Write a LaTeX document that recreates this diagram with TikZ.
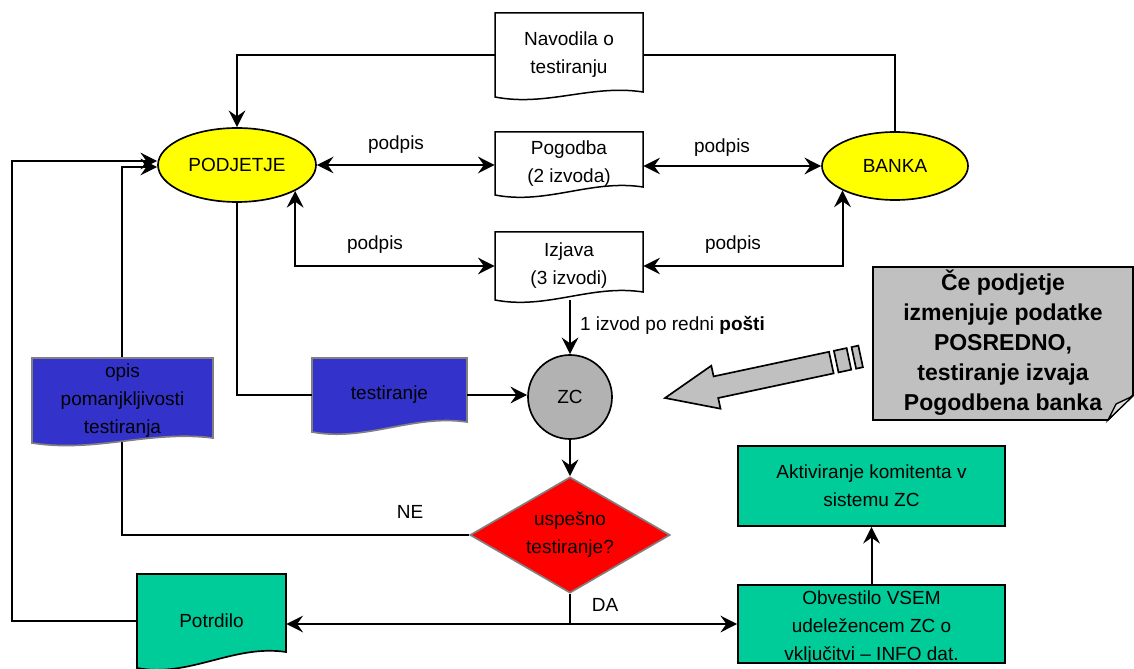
\documentclass[tikz,border=0pt]{standalone}
\usepackage{fontspec}
\setmainfont{Liberation Sans}
\usetikzlibrary{arrows.meta,shapes.geometric,calc}
\definecolor{cyellow}{HTML}{FFFF00}
\definecolor{cblue}{HTML}{3333CC}
\definecolor{cgreen}{HTML}{00CC99}
\definecolor{czc}{HTML}{B2B2B2}
\definecolor{ccall}{HTML}{C0C0C0}
\definecolor{cfold}{HTML}{DDDDDD}
\definecolor{cred}{HTML}{FF0000}
\definecolor{cgrayline}{HTML}{808080}
\newcommand\docnode[8]{%
  \path[#7] (#2,#3) -- (#4,#3) -- (#4,#5-#6) .. controls ({#2+0.65*(#4-#2)},{#5-#6-8}) and ({#2+0.35*(#4-#2)},{#5+10}) .. (#2,#5) -- cycle;
  \node[align=center, inner sep=0pt, minimum width={(#4-#2)*0.6pt}, minimum height={(#5-#3)*0.6pt}] (#1) at ({(#2+#4)/2},{(#3+#5)/2}) {#8};
}
\begin{document}
\begin{tikzpicture}[x=0.6pt,y=-0.6pt,
  font=\fontsize{11.4}{16.8}\selectfont,
  line/.style={line width=1.2pt},
  tip/.tip={Stealth[length=10pt,width=10pt,inset=3.5pt]},
  arr/.style={line, -tip},
  both/.style={line, tip-tip},
  ell/.style={ellipse, draw, line width=1pt, fill=cyellow, inner sep=0pt},
  docw/.style={draw=black, line width=0.9pt, fill=white},
  docb/.style={draw=cgrayline, line width=1pt, fill=cblue},
  docg/.style={draw=black, line width=1pt, fill=cgreen},
  grect/.style={draw=black, line width=1pt, fill=cgreen, align=center, inner sep=0pt, minimum width=160.2pt},
  lbl/.style={inner sep=1pt}
]
\useasboundingbox (0,0) rectangle (1134,669);

% main nodes
\node[ell, minimum width=94.8pt, minimum height=44.4pt] (pod) at (237,165) {PODJETJE};
\node[ell, minimum width=87.6pt, minimum height=40.8pt] (bank) at (895,166) {BANKA};
\docnode{nav}{495}{13}{643}{97}{5}{docw}{Navodila o\\testiranju}
\docnode{pog}{495}{132}{643}{195}{8}{docw}{Pogodba\\(2 izvoda)}
\docnode{izj}{495}{232}{643}{300}{8}{docw}{Izjava\\(3 izvodi)}
\docnode{tst}{312}{358}{467}{432}{10}{docb}{testiranje}
\node[circle, draw, line width=1pt, fill=czc, minimum size=50.4pt, inner sep=0pt] (zc) at (570,397) {ZC};
\node[diamond, draw=cgrayline, line width=1pt, fill=cred, aspect=1.72, minimum width=120pt, minimum height=69.6pt, inner sep=0pt, align=center] (dia) at (570,535) {uspešno\\testiranje?};
\docnode{pot}{137}{574}{286}{668}{16}{docg}{Potrdilo}
\node[grect, minimum height=48pt] (akt) at (871.5,486) {Aktiviranje komitenta v\\sistemu ZC};
\node[grect, minimum height=46.8pt] (obv) at (871.5,624) {};
\node[align=center, inner sep=0pt] (obvt) at (871.5,628) {Obvestilo VSEM\\udeležencem ZC o\\vključitvi – INFO dat.};

% connectors
\draw[arr] (nav.west) -| (pod.north);
\draw[line] (nav.east) -| (bank.north);
\draw[both] (pod.east) -- (pod.east -| pog.west);
\draw[both] (pog.east |- bank.west) -- (bank.west);
\draw[both] (pod.-24) |- (izj.west);
\draw[both] (izj.east) -| (bank.-155);
\draw[arr] (zc.north |- izj.south) -- (zc.north);
\draw[line] (pod.south) |- (tst.west);
\draw[arr] (tst.east) -- (tst.east -| zc.west);
\draw[arr] (zc.south) -- (dia.north);
\coordinate (ne) at (122,167);
\draw[arr] (dia.west) -| (ne) -- (ne -| pod.west);
\coordinate (lt) at (12,161);
\draw[arr] (pot.west) -| (lt) -- (lt -| pod.west);
\coordinate (j) at (dia.south |- obv.west);
\draw[line] (dia.south) -- (j);
\draw[arr] (j) -- (obv.west);
\draw[arr] (j) -- (j -| pot.east);
\draw[arr] (obv.north) -- (akt.south);

% document over the feedback line
\docnode{opis}{32}{358}{213}{443}{5}{docb}{opis\\pomanjkljivosti\\testiranja}

% labels
\node[lbl] (l1) at (396,145) {podpis};
\node[lbl] (l2) at (722,148) {podpis};
\node[lbl] (l3) at (375,245) {podpis};
\node[lbl] (l4) at (733,245) {podpis};
\node[lbl, anchor=west] (l5) at (578,325) {1 izvod po redni \textbf{pošti}};
\node[lbl] (l6) at (410,512) {NE};
\node[lbl] (l7) at (605,605) {DA};

% callout
\path[draw=black, line width=1pt, fill=ccall] (873,267) -- (1133,267) -- (1133,395) -- (1108,420) -- (873,420) -- cycle;
\path[draw=black, line width=0.8pt, fill=cfold] (1108,420) .. controls (1112,412) .. (1116,404) -- (1133,396) -- cycle;
\node[align=center, font=\bfseries\fontsize{13.8}{18}\selectfont] (call) at (1003,343) {Če podjetje\\izmenjuje podatke\\POSREDNO,\\testiranje izvaja\\Pogodbena banka};

% big arrow
\path[draw=black, line width=1pt, fill=ccall] (665,398) -- (711.3,365.7) -- (713.6,376.4) -- (829,351.8) -- (833.6,373.4) -- (718.2,398) -- (720.5,408.7) -- cycle;
\path[draw=black, line width=1pt, fill=ccall] (833.9,350.8) -- (846.6,348.1) -- (851.2,369.7) -- (838.5,372.4) -- cycle;
\path[draw=black, line width=1pt, fill=ccall] (851.5,347.1) -- (858.3,345.6) -- (862.9,367.2) -- (856.1,368.7) -- cycle;
\end{tikzpicture}
\end{document}
